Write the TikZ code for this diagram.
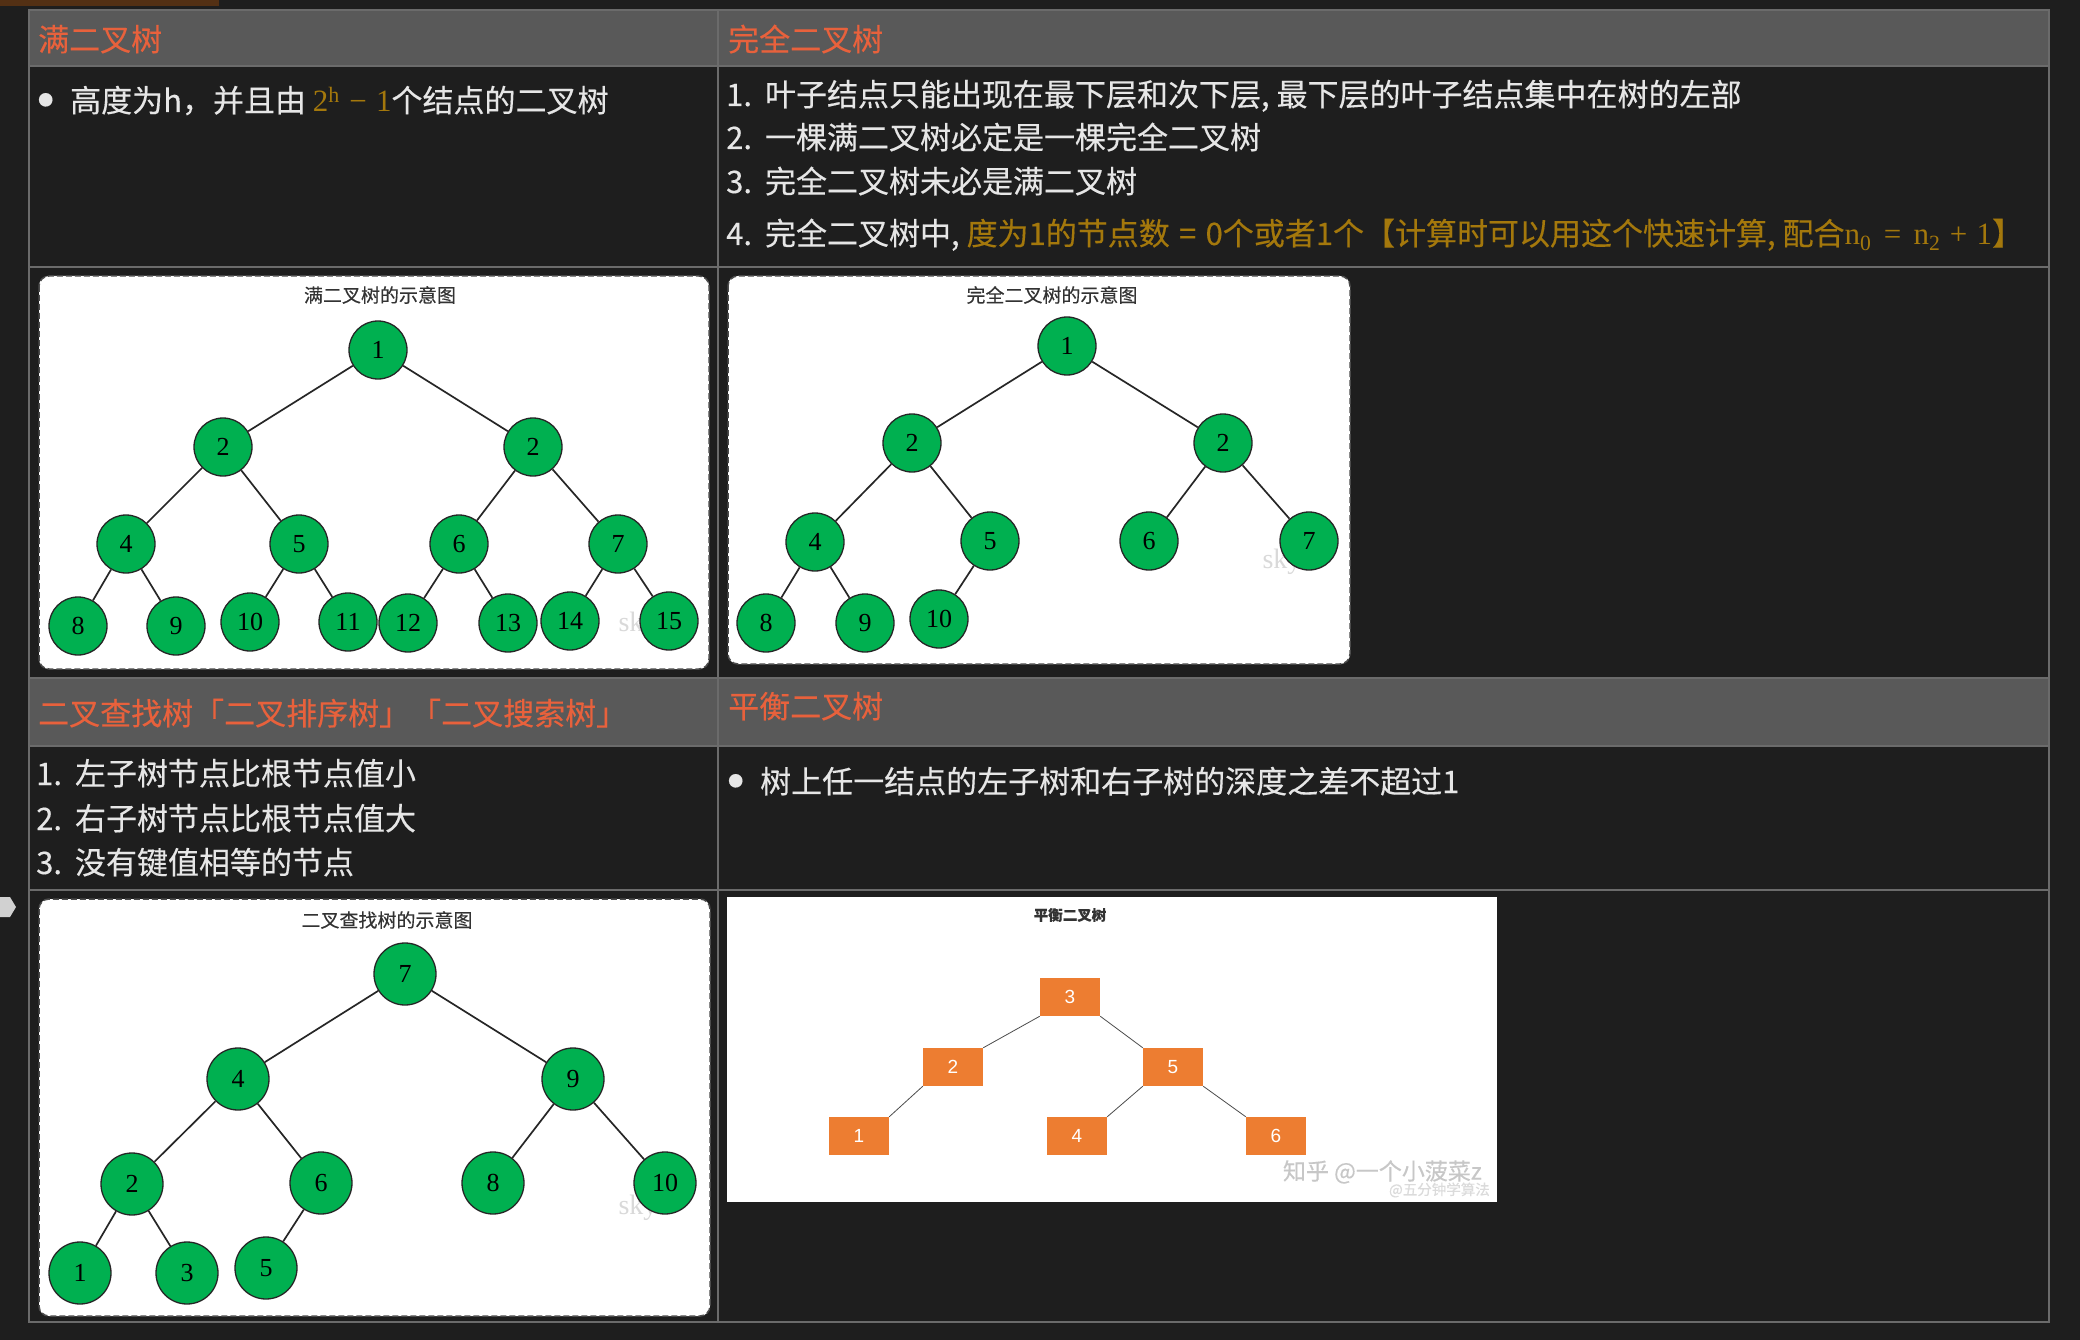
\documentclass[tikz,border=0pt]{standalone}
\usepackage{fontspec}
\setmainfont{Noto Sans CJK SC}[FakeBold=0.3]
\newfontfamily\numfont{Liberation Serif}
\newfontfamily\avlfont{Liberation Sans}
\usetikzlibrary{positioning}
\definecolor{pagebg}{HTML}{1E1E1E}
\definecolor{headbg}{HTML}{595959}
\definecolor{gridline}{HTML}{6B6B6B}
\definecolor{heading}{HTML}{E8613C}
\definecolor{bodytext}{HTML}{E6E6E6}
\definecolor{goldtext}{RGB}{164,120,12}
\definecolor{tabstrip}{HTML}{533014}
\definecolor{treegreen}{HTML}{00B050}
\definecolor{avlorange}{HTML}{ED7D31}
\definecolor{markgray}{HTML}{D9D9D9}
\newcommand{\bigtext}{\fontsize{31}{37}\selectfont}
\newcommand{\dotmark}{\raisebox{6.5pt}{\fontsize{15}{15}\selectfont ●}\hspace{17pt}}
\newcommand{\numsep}{.\hspace{0.42em}}

\begin{document}
\begin{tikzpicture}[x=1pt, y=-1pt,
    headtext/.style={anchor=base west, text=heading, font=\bigtext, inner sep=0pt},
    bodyline/.style={anchor=base west, text=bodytext, font=\bigtext, inner sep=0pt},
    panel/.style={fill=white, draw=black!70, dash pattern=on 6pt off 3pt,
      rounded corners=10pt, line width=1.5pt},
    panelhead/.style={text=black!80, font=\fontsize{19}{22}\selectfont, inner sep=0pt},
    tnode/.style={circle, draw=black!85, fill=treegreen, line width=1.3pt,
      minimum size=58pt, inner sep=0pt, font=\numfont\fontsize{26}{26}\selectfont},
    bignode/.style={tnode, minimum size=62pt},
    link/.style={draw=black!85, line width=1.7pt},
    avlbox/.style={fill=avlorange, minimum width=60pt, minimum height=38pt,
      inner sep=0pt, text=white, font=\avlfont\fontsize{19}{19}\selectfont},
    avllink/.style={draw=black!70, line width=0.8pt},
    watermark/.style={text=markgray, font=\numfont\fontsize{28}{28}\selectfont, inner sep=0pt},
  ]
    \useasboundingbox (0,0) rectangle (2080,1340);
    \fill[pagebg] (0,0) rectangle (2080,1340);
    \fill[tabstrip] (0,0) rectangle (219,6);
    \fill[black!18] (0,897) -- (10,897) -- (16,907) -- (10,917) -- (0,917) -- cycle;

    % table
    \fill[headbg] (29,10) rectangle (2049,66);
    \fill[headbg] (29,678) rectangle (2049,746);
    \draw[gridline, line width=2pt] (29,10) rectangle (2049,1322);
    \draw[gridline, line width=2pt] (718,10) -- (718,1322);
    \foreach \y in {66,267,678,746,890}
      \draw[gridline, line width=2pt] (29,\y) -- (2049,\y);

    \node[headtext] (fullhead) at (38,51) {满二叉树};
    \node[headtext] (comphead) at (728,51) {完全二叉树};
    \node[bodyline] (fullrule) at (38,112) {\dotmark 高度为h，并且由 \textcolor{goldtext}{\numfont 2\textsuperscript{\fontsize{22}{22}\selectfont h}\hspace{0.3em}−\hspace{0.3em}1}个结点的二叉树};
    \node[bodyline] (comprule1) at (726,106) {1\numsep 叶子结点只能出现在最下层和次下层, 最下层的叶子结点集中在树的左部};
    \node[bodyline] (comprule2) at (726,149) {2\numsep 一棵满二叉树必定是一棵完全二叉树};
    \node[bodyline] (comprule3) at (726,193) {3\numsep 完全二叉树未必是满二叉树};
    \node[bodyline] (comprule4) at (726,245) {4\numsep 完全二叉树中, \textcolor{goldtext}{度为1的节点数\hspace{0.3em}=\hspace{0.3em}0个或者1个【计算时可以用这个快速计算, 配合{\numfont n\textsubscript{0}\hspace{0.4em}=\hspace{0.4em}n\textsubscript{2}\hspace{0.3em}+\hspace{0.3em}1}】}};

    \node[headtext] (bsthead) at (38,725) {二叉查找树「二叉排序树」「二叉搜索树」};
    \node[headtext] (avlhead) at (728,718) {平衡二叉树};
    \node[bodyline] (bstrule1) at (36,785) {1\numsep 左子树节点比根节点值小};
    \node[bodyline] (bstrule2) at (36,830) {2\numsep 右子树节点比根节点值大};
    \node[bodyline] (bstrule3) at (36,874) {3\numsep 没有键值相等的节点};
    \node[bodyline] (avlrule) at (728,793) {\dotmark 树上任一结点的左子树和右子树的深度之差不超过1};

    % full tree
    \draw[panel] (39,276) rectangle (709,669);
    \node[panelhead] (fulltitle) at (380,295) {满二叉树的示意图};
    \node[watermark] (fullsky) at (638,625) {sky};
    \node[tnode] (f1) at (378,350) {1};
    \node[tnode] (f2a) at (223,447) {2};
    \node[tnode] (f2b) at (533,447) {2};
    \node[tnode] (f4) at (126,544) {4};
    \node[tnode] (f5) at (299,544) {5};
    \node[tnode] (f6) at (459,544) {6};
    \node[tnode] (f7) at (618,544) {7};
    \node[tnode] (f8) at (78,626) {8};
    \node[tnode] (f9) at (176,626) {9};
    \node[tnode] (f10) at (250,622) {10};
    \node[tnode] (f11) at (348,622) {11};
    \node[tnode] (f12) at (408,623) {12};
    \node[tnode] (f13) at (508,623) {13};
    \node[tnode] (f14) at (570,621) {14};
    \node[tnode] (f15) at (669,621) {15};
    \draw[link] (f1) -- (f2a);
    \draw[link] (f1) -- (f2b);
    \draw[link] (f2a) -- (f4);
    \draw[link] (f2a) -- (f5);
    \draw[link] (f2b) -- (f6);
    \draw[link] (f2b) -- (f7);
    \draw[link] (f4) -- (f8);
    \draw[link] (f4) -- (f9);
    \draw[link] (f5) -- (f10);
    \draw[link] (f5) -- (f11);
    \draw[link] (f6) -- (f12);
    \draw[link] (f6) -- (f13);
    \draw[link] (f7) -- (f14);
    \draw[link] (f7) -- (f15);

    % complete tree
    \draw[panel] (728,276) rectangle (1350,664);
    \node[panelhead] (comptitle) at (1052,295) {完全二叉树的示意图};
    \node[watermark] (compsky) at (1282,562) {sky};
    \node[tnode] (c1) at (1067,346) {1};
    \node[tnode] (c2a) at (912,443) {2};
    \node[tnode] (c2b) at (1223,443) {2};
    \node[tnode] (c4) at (815,542) {4};
    \node[tnode] (c5) at (990,541) {5};
    \node[tnode] (c6) at (1149,541) {6};
    \node[tnode] (c7) at (1309,541) {7};
    \node[tnode] (c8) at (766,623) {8};
    \node[tnode] (c9) at (865,623) {9};
    \node[tnode] (c10) at (939,619) {10};
    \draw[link] (c1) -- (c2a);
    \draw[link] (c1) -- (c2b);
    \draw[link] (c2a) -- (c4);
    \draw[link] (c2a) -- (c5);
    \draw[link] (c2b) -- (c6);
    \draw[link] (c2b) -- (c7);
    \draw[link] (c4) -- (c8);
    \draw[link] (c4) -- (c9);
    \draw[link] (c5) -- (c10);

    % search tree
    \draw[panel] (39,899) rectangle (710,1316);
    \node[panelhead] (bsttitle) at (387,920) {二叉查找树的示意图};
    \node[watermark] (bstsky) at (638,1208) {sky};
    \node[bignode] (s7) at (405,974) {7};
    \node[bignode] (s4) at (238,1079) {4};
    \node[bignode] (s9) at (573,1079) {9};
    \node[bignode] (s2) at (132,1184) {2};
    \node[bignode] (s6) at (321,1183) {6};
    \node[bignode] (s8) at (493,1183) {8};
    \node[bignode] (s10) at (665,1183) {10};
    \node[bignode] (s1) at (80,1273) {1};
    \node[bignode] (s3) at (187,1273) {3};
    \node[bignode] (s5) at (266,1268) {5};
    \draw[link] (s7) -- (s4);
    \draw[link] (s7) -- (s9);
    \draw[link] (s4) -- (s2);
    \draw[link] (s4) -- (s6);
    \draw[link] (s9) -- (s8);
    \draw[link] (s9) -- (s10);
    \draw[link] (s2) -- (s1);
    \draw[link] (s2) -- (s3);
    \draw[link] (s6) -- (s5);

    % balanced tree
    \fill[white] (727,897) rectangle (1497,1202);
    \node[panelhead, font=\bfseries\fontsize{14.5}{16}\selectfont] (avltitle) at (1070,915) {平衡二叉树};
    \node[avlbox] (b3) at (1070,997) {3};
    \node[avlbox] (b2) at (953,1067) {2};
    \node[avlbox] (b5) at (1173,1067) {5};
    \node[avlbox] (b1) at (859,1136) {1};
    \node[avlbox] (b4) at (1077,1136) {4};
    \node[avlbox] (b6) at (1276,1136) {6};
    \draw[avllink] (b3.south west) -- (b2.north east);
    \draw[avllink] (b3.south east) -- (b5.north west);
    \draw[avllink] (b2.south west) -- (b1.north east);
    \draw[avllink] (b5.south west) -- (b4.north east);
    \draw[avllink] (b5.south east) -- (b6.north west);
    \node[text=black!22, font=\fontsize{23}{23}\selectfont, anchor=east, inner sep=0pt] (zhihu) at (1482,1172) {知乎 @一个小菠菜z};
    \node[text=black!14, font=\fontsize{14.5}{15}\selectfont, anchor=east, inner sep=0pt] (zhihusub) at (1490,1190) {@五分钟学算法};
  \end{tikzpicture}
\end{document}
